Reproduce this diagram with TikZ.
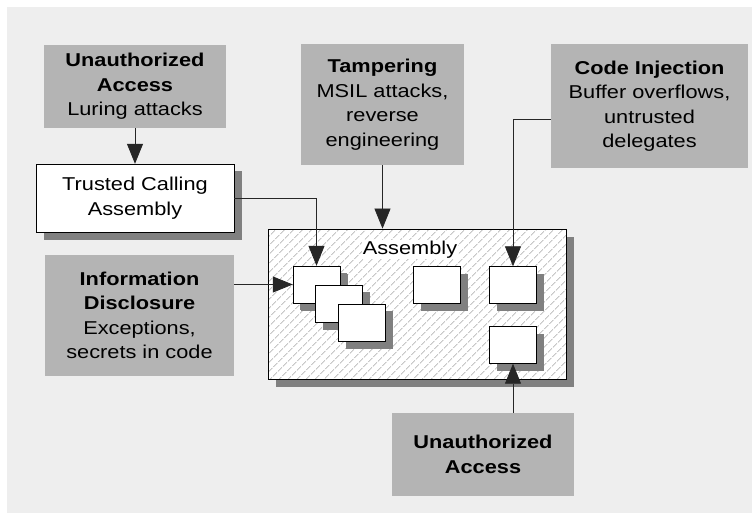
\documentclass[tikz,border=0pt]{standalone}
\usepackage{fontspec}
\setmainfont{Liberation Sans}[FakeStretch=1.17]
\usetikzlibrary{arrows.meta,shadows,patterns.meta}
\definecolor{bggray}{HTML}{EEEEEE}
\definecolor{threatgray}{HTML}{B4B4B4}
\definecolor{shadowgray}{HTML}{808080}
\definecolor{hatchgray}{HTML}{ABABAB}
\begin{document}
\begin{tikzpicture}[x=1pt,y=-1pt,
    font=\fontsize{18.6}{24.5}\selectfont,
    threat/.style={fill=threatgray,align=center,inner sep=0pt},
    castshadow/.style={drop shadow={shadow xshift=#1,shadow yshift=-#1,fill=shadowgray,opacity=1}},
    whitebox/.style={draw,fill=white,align=center,inner sep=0pt,castshadow=7.5pt},
    module/.style={whitebox,minimum width=47pt,minimum height=37pt,castshadow=7pt},
    arr/.style={-{Triangle[length=20pt,width=16pt]},line width=0.8pt,black!85}]
  \useasboundingbox (0,0) rectangle (752,513);
  \fill[bggray] (7,7) rectangle (752,513);
  % attacks
  \node[threat,minimum width=182pt,minimum height=83pt] (uatop) at (135,86.5)
    {\textbf{Unauthorized}\\\textbf{Access}\\Luring attacks};
  \node[threat,minimum width=163pt,minimum height=121pt] (tamper) at (382.5,104.5)
    {\textbf{Tampering}\\MSIL attacks,\\reverse\\engineering};
  \node[threat,minimum width=197pt,minimum height=124pt] (inject) at (649.5,106)
    {\textbf{Code Injection}\\Buffer overflows,\\untrusted\\delegates};
  \node[threat,minimum width=189pt,minimum height=121pt] (info) at (139.5,315.5)
    {\textbf{Information}\\\textbf{Disclosure}\\Exceptions,\\secrets in code};
  \node[threat,minimum width=182pt,minimum height=83pt] (uabot) at (483,454.5)
    {\textbf{Unauthorized}\\\textbf{Access}};
  \node[whitebox,minimum width=198pt,minimum height=68pt] (trusted) at (135,198)
    {Trusted Calling\\Assembly};
  % the assembly
  \node[draw,minimum width=298pt,minimum height=150pt,castshadow=8pt,preaction={fill=white},
    pattern={Lines[angle=45,distance=6.5pt,line width=0.8pt]},pattern color=hatchgray]
    (asm) at (417,304) {};
  \node[anchor=base,fill=white,inner sep=1pt] (asmlabel) at (410,254) {Assembly};
  \node[module] (m1) at (316.5,284.5) {};
  \node[module] (m2) at (339,303.5) {};
  \node[module] (m3) at (362,322.5) {};
  \node[module] (m4) at (437,285) {};
  \node[module] (m5) at (513,285) {};
  \node[module] (m6) at (513,345) {};
  % arrows
  \draw[arr] (uatop) -- (trusted);
  \draw[arr] (trusted.east) -| (m1.north);
  \draw[arr] (tamper.south) -- (tamper.south |- asm.north);
  \draw[arr] ([yshift=-13pt]inject.west) -| (m5.north);
  \draw[arr] (info.east |- m1.west) -- (m1.west);
  \draw[arr] (m6.south |- uabot.north) -- (m6.south);
\end{tikzpicture}
\end{document}
